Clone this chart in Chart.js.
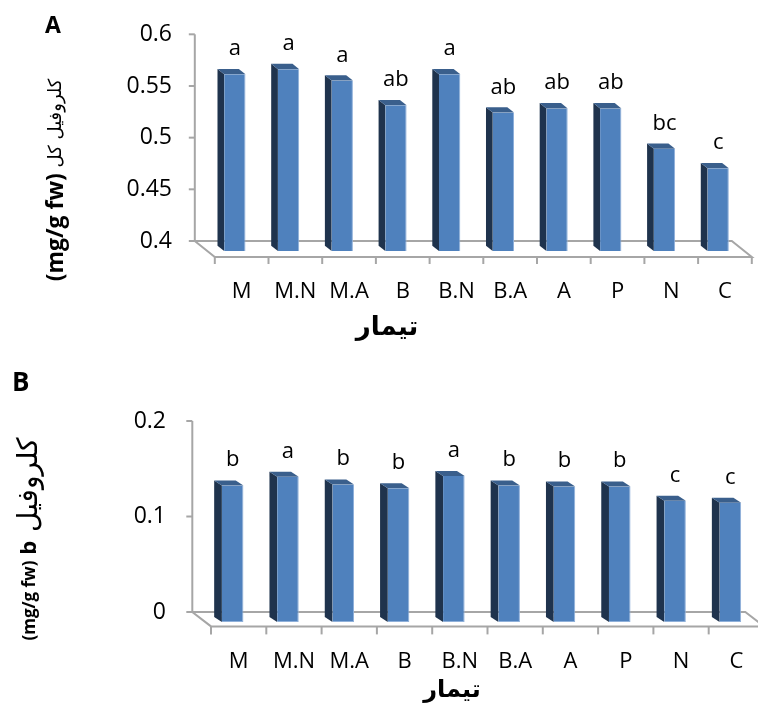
<!DOCTYPE html>
<html>
<head>
<meta charset="utf-8">
<script src="https://cdn.jsdelivr.net/npm/chart.js@4.4.1/dist/chart.umd.min.js"></script>
<style>
  html, body { margin: 0; padding: 0; background: #ffffff; }
  #wrap { position: relative; width: 758px; height: 708px; overflow: hidden; }
  .panel { position: absolute; left: 0; width: 758px; }
  #panelA { top: 0; height: 355px; }
  #panelB { top: 355px; height: 353px; }
</style>
</head>
<body>
<div id="wrap">
  <div class="panel" id="panelA"><canvas id="chartA" width="758" height="355"></canvas></div>
  <div class="panel" id="panelB"><canvas id="chartB" width="758" height="353"></canvas></div>
</div>
<script>
// Treatments on the category axis
const treatments = ['M', 'M.N', 'M.A', 'B', 'B.N', 'B.A', 'A', 'P', 'N', 'C'];

// Total chlorophyll (mg/g fw) and mean-separation letters
const totalChl = [0.571, 0.576, 0.565, 0.541, 0.571, 0.534, 0.538, 0.538, 0.499, 0.480];
const totalChlGroups = ['a', 'a', 'a', 'ab', 'a', 'ab', 'ab', 'ab', 'bc', 'c'];
const totalChlTicks = [0.4, 0.45, 0.5, 0.55, 0.6];

// Chlorophyll b (mg/g fw) and mean-separation letters
const chlB = [0.143, 0.152, 0.144, 0.140, 0.153, 0.143, 0.142, 0.142, 0.127, 0.125];
const chlBGroups = ['b', 'a', 'b', 'b', 'a', 'b', 'b', 'b', 'c', 'c'];
const chlBTicks = [0, 0.1, 0.2];

const LATIN = "'Open Sans', 'DejaVu Sans', sans-serif";
const ARABIC = "'DejaVu Sans', sans-serif";
const FRONT = '#4F81BD';
const SIDE = '#1F334D';
const CAP = '#3A5F8C';
const FLOOR = '#A6A6A6';

function line(ctx, x1, y1, x2, y2) {
  ctx.beginPath(); ctx.moveTo(x1, y1); ctx.lineTo(x2, y2); ctx.stroke();
}

// Pseudo-3D columns: floor, wall axis, side and top faces, letters and titles
const column3d = {
  id: 'column3d',
  beforeDatasetsDraw(chart, args, o) {
    const { ctx, chartArea: ca } = chart;
    const wall = chart.scales.yBack;
    const n = chart.data.labels.length;
    const W = ca.right - ca.left;
    const bx = ca.left + o.back[0], by = ca.bottom + o.back[1];
    const fx = ca.left + o.front[0], fy = ca.bottom + o.front[1];
    ctx.save();
    ctx.strokeStyle = FLOOR;
    ctx.lineWidth = 2;
    ctx.lineJoin = 'miter';
    // value axis on the back wall
    line(ctx, bx, wall.getPixelForValue(o.ticks[o.ticks.length - 1]), bx, by);
    o.ticks.forEach(v => {
      const y = wall.getPixelForValue(v);
      line(ctx, bx - 6, y, bx, y);
    });
    // floor outline
    ctx.beginPath();
    ctx.moveTo(bx, by);
    ctx.lineTo(bx + W, by);
    ctx.lineTo(fx + W, fy);
    ctx.lineTo(fx, fy);
    ctx.closePath();
    ctx.stroke();
    // category tick marks on the front edge
    for (let i = 0; i <= n; i++) {
      const x = fx + i * W / n;
      line(ctx, x, fy, x, fy + o.tickLen);
    }
    // side and top faces of each column
    const meta = chart.getDatasetMeta(0);
    const [dx, dy] = o.depth;
    meta.data.forEach(bar => {
      const p = bar.getProps(['x', 'y', 'base', 'width'], true);
      const base = Math.min(p.base, ca.bottom);
      const y = p.y;
      const l = p.x - p.width / 2, r = p.x + p.width / 2;
      ctx.fillStyle = SIDE;
      ctx.beginPath();
      ctx.moveTo(l, y); ctx.lineTo(l - dx, y - dy); ctx.lineTo(l - dx, base - dy); ctx.lineTo(l, base);
      ctx.closePath(); ctx.fill();
      ctx.fillStyle = CAP;
      ctx.beginPath();
      ctx.moveTo(l, y); ctx.lineTo(l - dx, y - dy); ctx.lineTo(r - dx, y - dy); ctx.lineTo(r, y);
      ctx.closePath(); ctx.fill();
    });
    ctx.restore();
  },
  afterDatasetsDraw(chart, args, o) {
    const { ctx } = chart;
    const meta = chart.getDatasetMeta(0);
    ctx.save();
    ctx.fillStyle = '#000';
    ctx.font = o.letterFont;
    ctx.textAlign = 'center';
    ctx.textBaseline = 'alphabetic';
    meta.data.forEach((bar, i) => {
      ctx.fillText(o.groups[i], bar.x, bar.y - o.letterGap);
    });
    ctx.restore();
  },
  afterDraw(chart, args, o) {
    const { ctx } = chart;
    ctx.save();
    ctx.fillStyle = '#000';
    // panel letter
    ctx.font = o.panel.font;
    ctx.textAlign = 'left';
    ctx.textBaseline = 'alphabetic';
    ctx.fillText(o.panel.text, o.panel.x, o.panel.y);
    // category axis title
    ctx.font = o.xTitle.font;
    ctx.textAlign = 'center';
    ctx.textBaseline = 'middle';
    ctx.fillText(o.xTitle.text, o.xTitle.x, o.xTitle.y);
    // value axis title, read bottom to top
    ctx.translate(o.yTitle.x, o.yTitle.y);
    ctx.rotate(-Math.PI / 2);
    ctx.textAlign = 'left';
    ctx.textBaseline = 'middle';
    let total = 0;
    o.yTitle.parts.forEach(p => { ctx.font = p.font; total += ctx.measureText(p.text).width; });
    let x = -total / 2;
    o.yTitle.parts.forEach(p => {
      ctx.font = p.font;
      ctx.fillText(p.text, x, p.dy || 0);
      x += ctx.measureText(p.text).width;
    });
    ctx.restore();
  }
};

function buildChart(id, c) {
  return new Chart(document.getElementById(id), {
    type: 'bar',
    data: {
      labels: treatments,
      datasets: [{
        data: c.values,
        yAxisID: 'y',
        backgroundColor: FRONT,
        borderColor: '#8FB0DA',
        borderWidth: { left: 0, top: 0, right: 1, bottom: 1 },
        borderSkipped: false,
        barPercentage: c.barPct,
        categoryPercentage: 1
      }]
    },
    options: {
      responsive: false,
      animation: false,
      devicePixelRatio: 1,
      events: [],
      layout: { padding: { left: 0, top: c.top, right: c.right, bottom: 0 } },
      plugins: {
        legend: { display: false },
        tooltip: { enabled: false },
        column3d: c.decor
      },
      scales: {
        x: {
          type: 'category',
          grid: { display: false, drawTicks: false },
          border: { display: false },
          ticks: {
            color: '#000',
            font: { family: LATIN, size: 22 },
            padding: c.xPad,
            labelOffset: c.labelOffset,
            maxRotation: 0,
            autoSkip: false
          },
          afterFit: s => {
            s.height = c.xHeight;
            s.paddingLeft = 0; s.paddingRight = 0;
          }
        },
        y: {
          display: false,
          bounds: 'data',
          min: c.min,
          max: c.frontMax,
          afterDataLimits: s => { s.min = c.min; s.max = c.frontMax; }
        },
        yBack: {
          position: 'left',
          bounds: 'data',
          min: c.backMin,
          max: c.backMax,
          grid: { display: false, drawTicks: false },
          border: { display: false },
          ticks: {
            color: '#000',
            font: { family: LATIN, size: 23 },
            padding: c.yPad,
            callback: v => String(v)
          },
          afterDataLimits: s => { s.min = c.backMin; s.max = c.backMax; },
          afterBuildTicks: s => {
            s.ticks = c.ticks.map(v => ({ value: v }));
            s.min = c.backMin; s.max = c.backMax;
          },
          afterFit: s => {
            s.width = c.left;
            s.paddingTop = 0; s.paddingBottom = 0;
          }
        }
      }
    },
    plugins: [column3d]
  });
}

buildChart('chartA', {
  values: totalChl,
  ticks: totalChlTicks,
  min: 0.4, frontMax: 0.61,
  backMin: 0.3903, backMax: 0.6003,
  barPct: 0.397,
  top: 34, right: 13, left: 208, xHeight: 104,
  xPad: 28, labelOffset: 6.8, yPad: 36,
  decor: {
    ticks: totalChlTicks,
    groups: totalChlGroups,
    back: [-13.2, -10], front: [6.8, 6], depth: [6.7, 5.3], tickLen: 7,
    letterFont: '22px ' + LATIN, letterGap: 19,
    panel: { text: 'A', font: 'bold 23px ' + LATIN, x: 45, y: 33 },
    xTitle: { text: 'تیمار', font: 'bold 26px ' + ARABIC, x: 387, y: 328 },
    yTitle: {
      x: 56, y: 180,
      parts: [
        { text: '(mg/g fw)', font: 'bold 23px ' + LATIN },
        { text: ' کلروفیل کل', font: '18px ' + ARABIC }
      ]
    }
  }
});

buildChart('chartB', {
  values: chlB,
  ticks: chlBTicks,
  min: 0, frontMax: 0.2105,
  backMin: -0.01045, backMax: 0.2,
  barPct: 0.39,
  top: 66, right: 0, left: 205, xHeight: 86,
  xPad: 27, labelOffset: 6, yPad: 39,
  decor: {
    ticks: chlBTicks,
    groups: chlBGroups,
    back: [-12.7, -10], front: [6, 4.4], depth: [7.7, 5], tickLen: 8,
    letterFont: '22px ' + LATIN, letterGap: 19,
    panel: { text: 'B', font: 'bold 26px ' + LATIN, x: 12, y: 36 },
    xTitle: { text: 'تیمار', font: 'bold 24px ' + ARABIC, x: 452, y: 336 },
    yTitle: {
      x: 30, y: 184,
      parts: [
        { text: '(mg/g fw)', font: 'bold 17px ' + LATIN },
        { text: ' b', font: 'bold 22px ' + LATIN },
        { text: ' کلروفیل', font: '28px ' + ARABIC }
      ]
    }
  }
});
</script>
</body>
</html>
